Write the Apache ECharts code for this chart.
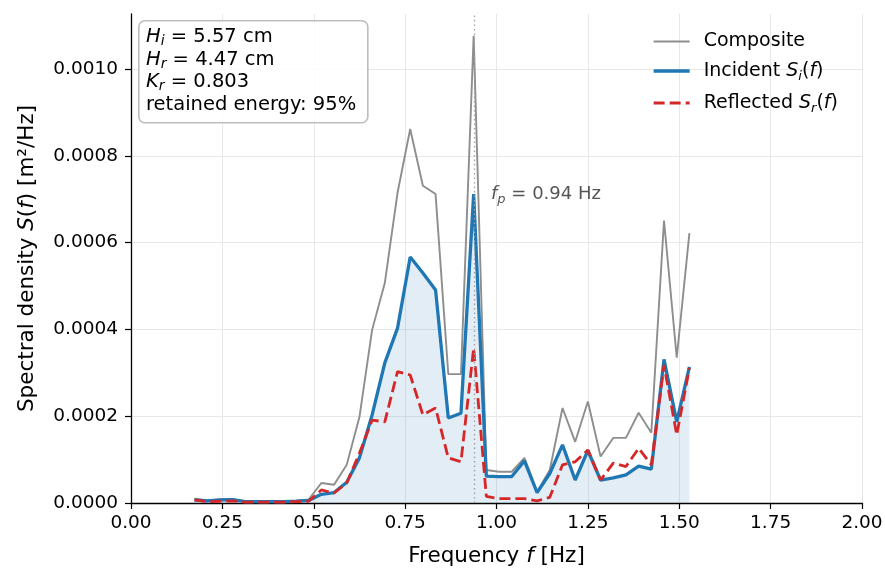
<!DOCTYPE html>
<html><head><meta charset="utf-8">
<script src="https://cdn.jsdelivr.net/npm/echarts@6/dist/echarts.min.js"></script>
<style>html,body{margin:0;padding:0;background:#fff}#c{width:885px;height:569px}</style>
</head><body><div id="c"></div>
<script>
// Frequencies [Hz]
const freqs = [0.1736,0.2083,0.2431,0.2778,0.3125,0.3472,0.3819,0.4167,0.4514,0.4861,
  0.5208,0.5556,0.5903,0.6250,0.6597,0.6944,0.7292,0.7639,0.7986,0.8333,
  0.8681,0.9028,0.9375,0.9722,1.0069,1.0417,1.0764,1.1111,1.1458,1.1806,
  1.2153,1.2500,1.2847,1.3194,1.3542,1.3889,1.4236,1.4583,1.4931,1.5278];
// Spectral densities [m^2/Hz]
const composite = [0.000010,0.000006,0.000008,0.000009,0.000004,0.000004,0.000004,0.000004,0.000005,0.000008,
  0.000046,0.000042,0.000088,0.000198,0.000399,0.000507,0.000715,0.000862,0.000731,0.000712,
  0.000297,0.000297,0.001077,0.000076,0.000072,0.000072,0.000104,0.000026,0.000076,0.000219,
  0.000141,0.000234,0.000107,0.000150,0.000150,0.000208,0.000162,0.000651,0.000335,0.000622];
const incident = [0.000007,0.000005,0.000007,0.000008,0.000003,0.000003,0.000003,0.000003,0.000004,0.000006,
  0.000020,0.000024,0.000048,0.000104,0.000203,0.000323,0.000403,0.000567,0.000530,0.000491,
  0.000196,0.000207,0.000712,0.000062,0.000061,0.000061,0.000097,0.000024,0.000068,0.000134,
  0.000053,0.000121,0.000053,0.000058,0.000065,0.000085,0.000078,0.000331,0.000187,0.000314];
const reflected = [0.000007,0.000003,0.000004,0.000005,0.000002,0.000002,0.000002,0.000002,0.000003,0.000004,
  0.000030,0.000023,0.000046,0.000115,0.000191,0.000187,0.000303,0.000295,0.000203,0.000219,
  0.000104,0.000095,0.000357,0.000015,0.000010,0.000010,0.000010,0.000005,0.000013,0.000088,
  0.000095,0.000122,0.000053,0.000092,0.000084,0.000126,0.000088,0.000318,0.000157,0.000311];
const xTicks = [0,0.25,0.5,0.75,1.0,1.25,1.5,1.75,2.0];
const yTicks = [0,0.0002,0.0004,0.0006,0.0008,0.0010];
const xMax = 2.0, yMax = 0.001127;
const peakFreq = 0.9375;
const peakLabel = '0.94';
const annoPos = [0.985, 0.000712];
const Hi = '5.57', Hr = '4.47', Kr = '0.803', retained = '95%';

const FF = 'DejaVu Sans';
const pair = (ys) => freqs.map((f, i) => [f, ys[i]]);
const richBase = (fs, lh, col) => ({
  i: {fontStyle: 'italic', fontFamily: FF, fontSize: fs, lineHeight: lh, color: col, fill: col, verticalAlign: 'middle'},
  s: {fontStyle: 'italic', fontFamily: FF, fontSize: Math.round(fs * 0.7), lineHeight: lh, color: col, fill: col, verticalAlign: 'bottom'},
  n: {fontFamily: FF, fontSize: fs, lineHeight: lh, color: col, fill: col, verticalAlign: 'middle'}
});

const chart = echarts.init(document.getElementById('c'), null, {renderer: 'canvas'});
chart.setOption({
  animation: false,
  backgroundColor: '#fff',
  grid: {left: 131, right: 23, top: 14, bottom: 66, containLabel: false, outerBoundsMode: 'none'},
  xAxis: {
    type: 'value', min: 0, max: xMax, interval: 0.25,
    name: '{n|Frequency }{i|f}{n| [Hz]}', nameLocation: 'middle', nameGap: 40,
    nameTextStyle: {fontFamily: FF, fontSize: 21.5, color: '#000', rich: richBase(21.5, 26, '#000')},
    axisLine: {show: true, onZero: false, lineStyle: {color: '#000', width: 1.3}},
    axisTick: {show: true, inside: false, length: 6, lineStyle: {color: '#000', width: 1.2}},
    axisLabel: {fontFamily: FF, fontSize: 18.5, color: '#000', margin: 11, formatter: v => v.toFixed(2)},
    splitLine: {show: true, lineStyle: {color: '#e8e8e8', width: 1}}
  },
  yAxis: {
    type: 'value', min: 0, max: yMax, interval: 0.0002,
    name: '{n|Spectral density }{i|S}{n|(}{i|f}{n|) [m²/Hz]}', nameLocation: 'middle', nameGap: 91, nameRotate: 90,
    nameTextStyle: {fontFamily: FF, fontSize: 21.5, color: '#000', rich: richBase(21.5, 26, '#000')},
    axisLine: {show: true, onZero: false, lineStyle: {color: '#000', width: 1.3}},
    axisTick: {show: true, inside: false, length: 6, lineStyle: {color: '#000', width: 1.2}, customValues: yTicks},
    axisLabel: {fontFamily: FF, fontSize: 18.5, color: '#000', margin: 13, customValues: yTicks,
      formatter: v => v.toFixed(4)},
    splitLine: {show: true, lineStyle: {color: '#e8e8e8', width: 1}}
  },
  legend: {
    orient: 'vertical', left: 652, top: 32, padding: 0,
    itemWidth: 36, itemHeight: 14, itemGap: 10.5,
    itemStyle: {opacity: 0},
    lineStyle: {width: 'inherit', type: 'inherit'},
    data: ['Composite', 'Incident', 'Reflected'],
    formatter: name => name === 'Composite' ? '{n|Composite}' :
      name === 'Incident' ? '{n|Incident }{i|S}{s|i}{n|(}{i|f}{n|)}' : '{n|Reflected }{i|S}{s|r}{n|(}{i|f}{n|)}',
    textStyle: {fontFamily: FF, fontSize: 19, color: '#000', padding: [0, 0, 0, 9], rich: richBase(19, 24, '#000')}
  },
  series: [
    {
      name: 'Composite', type: 'line', data: pair(composite), symbol: 'none', z: 2,
      lineStyle: {color: '#8e8e8e', width: 1.9}, itemStyle: {color: '#8e8e8e'}
    },
    {
      name: 'Incident', type: 'line', data: pair(incident), symbol: 'none', z: 3,
      lineStyle: {color: '#1f77b4', width: 3.3}, itemStyle: {color: '#1f77b4'},
      areaStyle: {color: '#1f77b4', opacity: 0.13, origin: 'start'}
    },
    {
      name: 'Reflected', type: 'line', data: pair(reflected), symbol: 'none', z: 4,
      lineStyle: {color: '#d62728', width: 2.8, type: [11, 5]}, itemStyle: {color: '#d62728'},
      markLine: {
        silent: true, symbol: 'none', animation: false,
        label: {show: false},
        lineStyle: {color: '#a0a0a0', width: 1.3, type: [1.5, 3]},
        data: [{xAxis: peakFreq}]
      },
      markPoint: {
        silent: true, symbol: 'circle', symbolSize: 0, animation: false,
        itemStyle: {color: 'transparent'},
        label: {
          show: true, position: 'right', distance: 0,
          formatter: '{i|f}{s|p}{n| = ' + peakLabel + ' Hz}',
          rich: richBase(18, 24, '#555')
        },
        data: [{coord: annoPos}]
      }
    }
  ],
  graphic: [
    {
      type: 'rect', left: 138, top: 20, z: 100,
      shape: {width: 229, height: 102, r: 6},
      style: {fill: 'rgba(255,255,255,0.85)', stroke: '#bdbdbd', lineWidth: 1.6}
    },
    {
      type: 'text', left: 146, top: 25.5, z: 101,
      style: {
        text: '{i|H}{s|i}{n| = ' + Hi + ' cm}\n{i|H}{s|r}{n| = ' + Hr + ' cm}\n{i|K}{s|r}{n| = ' + Kr + '}\n{n|retained energy: ' + retained + '}',
        fontFamily: FF, fontSize: 19.5, fill: '#000', lineHeight: 22.7,
        rich: richBase(19.5, 22.7, '#000')
      }
    }
  ]
});
</script></body></html>
